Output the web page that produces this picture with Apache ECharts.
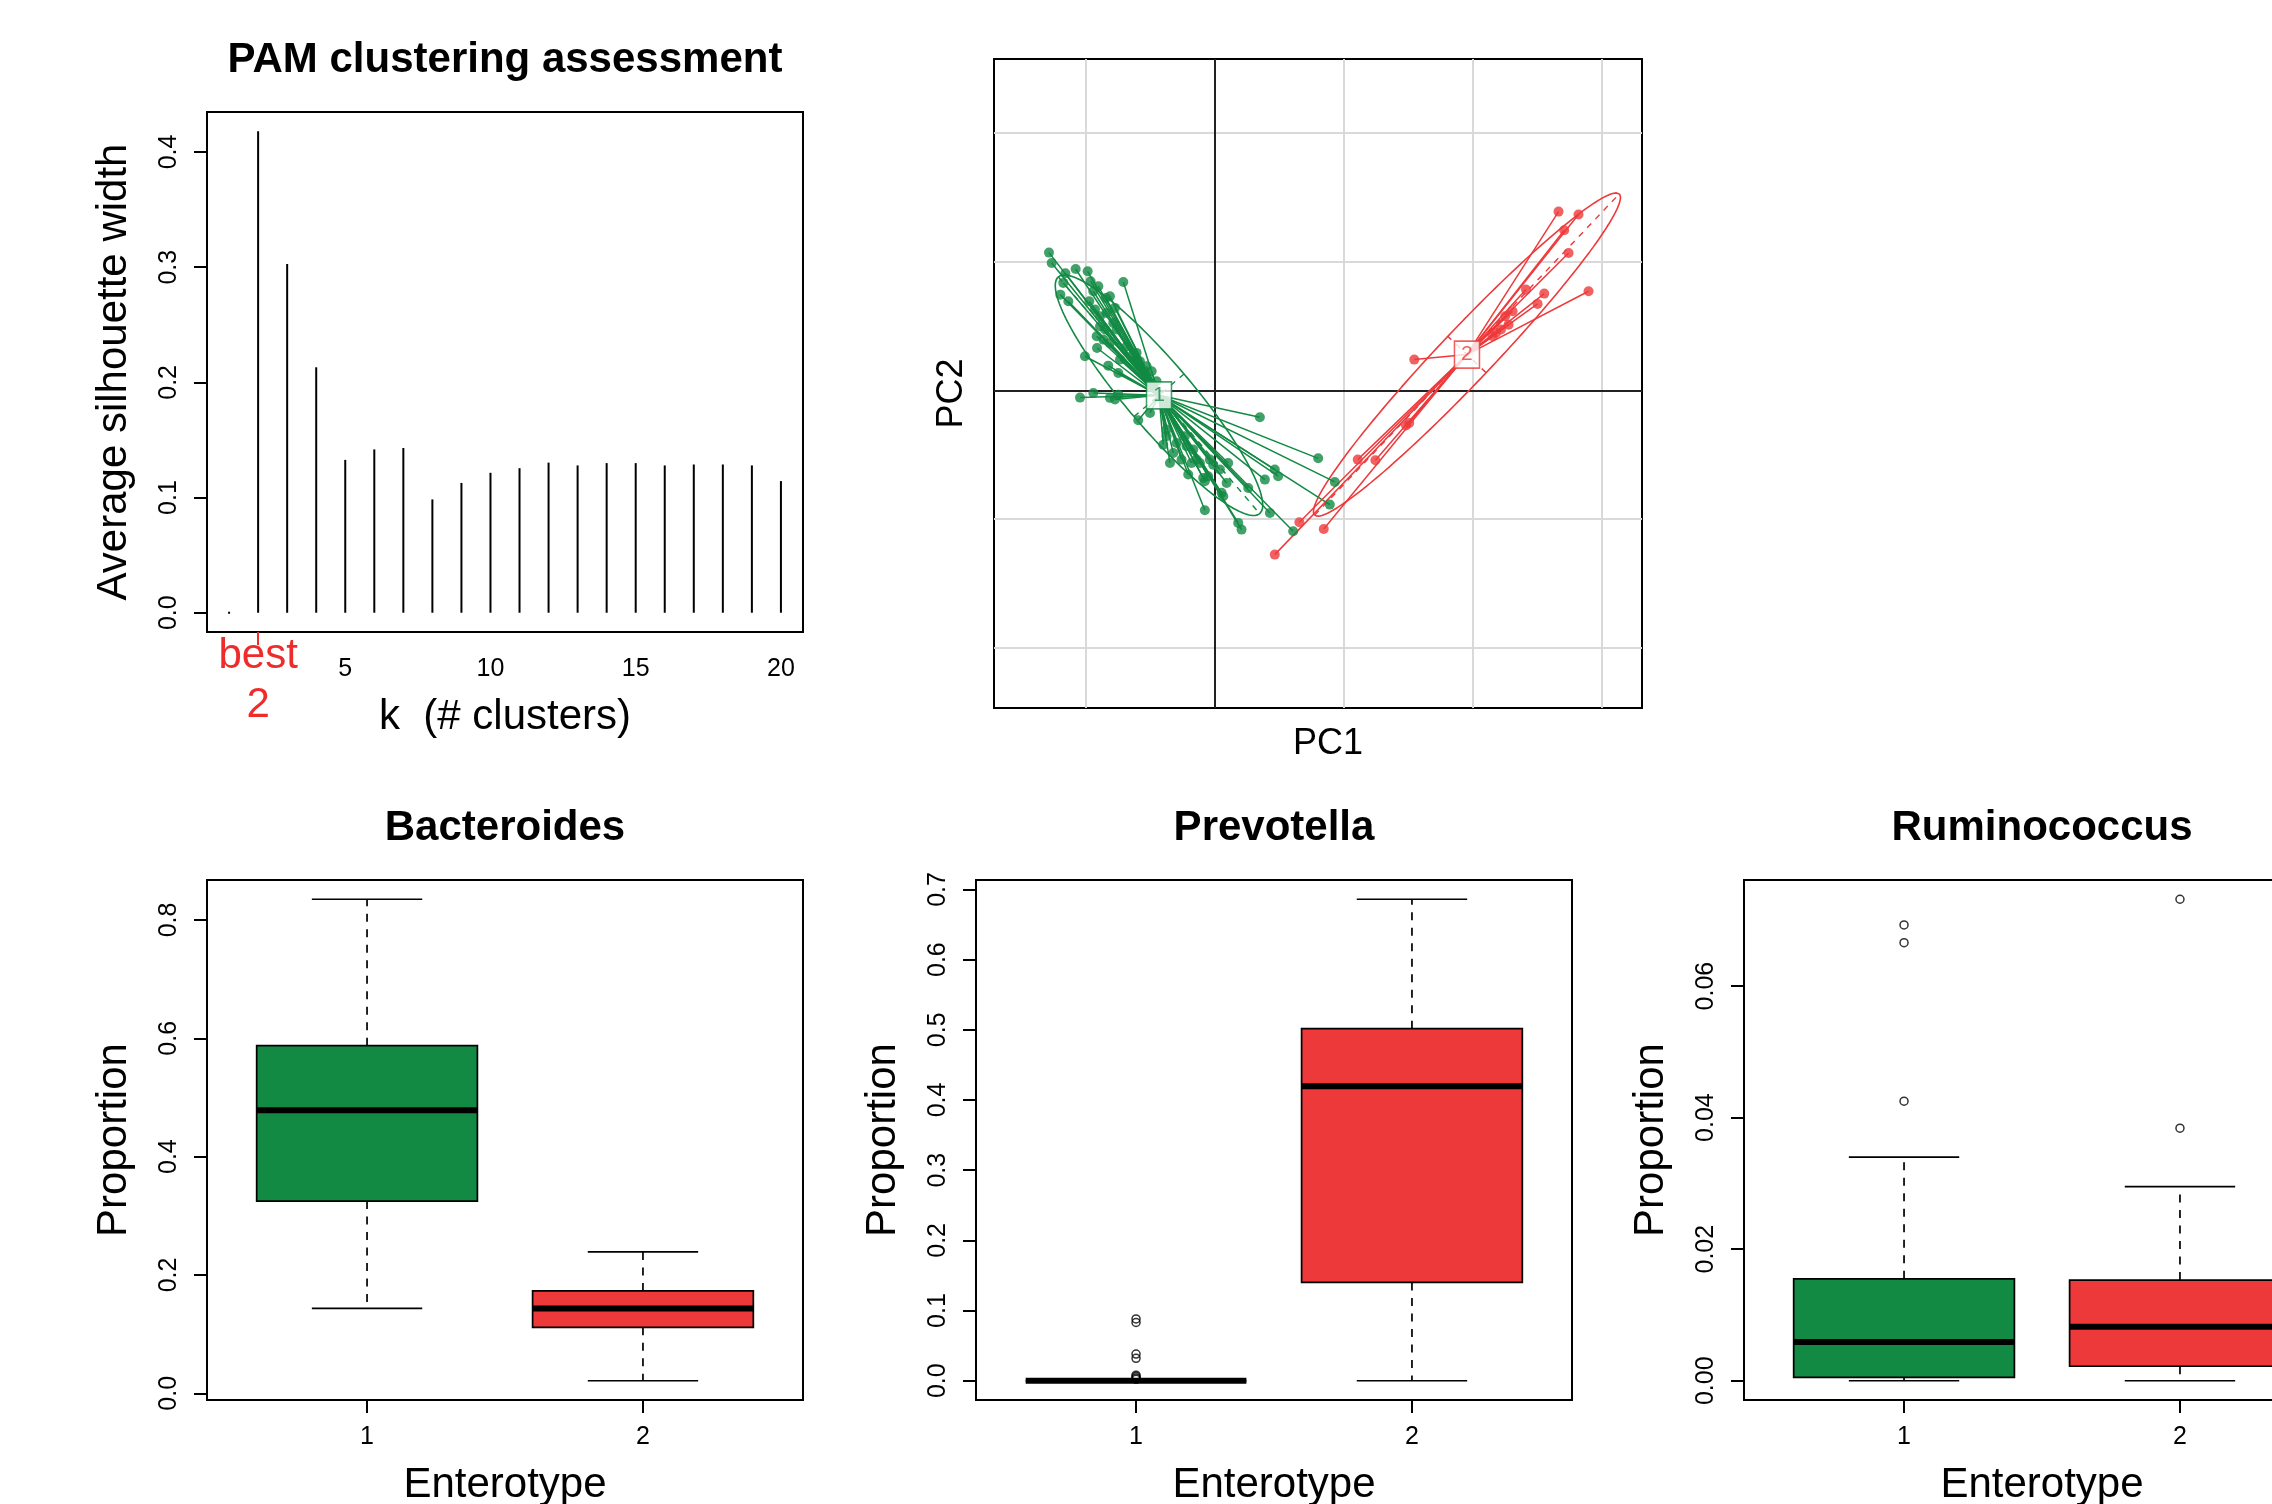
<!DOCTYPE html>
<html>
<head>
<meta charset="utf-8">
<title>Enterotype clustering</title>
<script src="https://cdn.jsdelivr.net/npm/echarts@6/dist/echarts.min.js"></script>
<style>
  html, body { margin: 0; padding: 0; background: #ffffff; }
  #chart { width: 2272px; height: 1504px; }
</style>
</head>
<body>
<div id="chart"></div>
<script>
// ---------- PAM clustering assessment ----------
const kValues = [1, 2, 3, 4, 5, 6, 7, 8, 9, 10, 11, 12, 13, 14, 15, 16, 17, 18, 19, 20];
const avgSilhouette = [0, 0.418, 0.3028, 0.2131, 0.1327, 0.1418, 0.1430, 0.0984, 0.1127, 0.1215,
                       0.1255, 0.1303, 0.1279, 0.1299, 0.1299, 0.1279, 0.1287, 0.1287, 0.1279, 0.1143];
const bestK = 2;
const kTickLabels = [5, 10, 15, 20];
const silTickLabels = [0, 0.1, 0.2, 0.3, 0.4];

// ---------- PCA of samples (PC1, PC2), per enterotype ----------
const cluster1Points = [
  [-1.288, 1.068], [-1.267, 0.988], [-1.161, 0.908], [-1.081, 0.941], [-0.988, 0.923],
  [-1.177, 0.833], [-0.965, 0.846], [-0.905, 0.807], [-0.711, 0.840], [-1.200, 0.742],
  [-1.138, 0.690], [-0.944, 0.768], [-0.975, 0.690], [-0.846, 0.716], [-0.815, 0.729],
  [-0.931, 0.626], [-0.892, 0.574], [-0.918, 0.419], [-0.853, 0.471], [-0.789, 0.522],
  [-0.915, 0.328], [-1.009, 0.264], [-0.828, 0.191], [-0.750, 0.134], [-0.608, 0.290],
  [-0.647, 0.264], [-0.491, 0.147], [-0.453, 0.070], [-0.737, 0.238], [-0.892, 0.497],
  [-0.866, 0.393], [-0.815, 0.367], [-0.582, 0.225], [-0.530, 0.186], [-0.685, 0.341],
  [-0.763, 0.471], [-0.840, 0.600], [-0.776, 0.639],
  [-1.047, -0.057], [-0.944, -0.021], [-0.815, -0.059], [-0.750, -0.034], [-0.776, -0.072],
  [-0.595, -0.233], [-0.504, -0.176], [-0.401, -0.422], [-0.375, -0.305], [-0.349, -0.564],
  [-0.323, -0.486], [-0.259, -0.538], [-0.207, -0.654], [-0.168, -0.460], [-0.116, -0.564],
  [-0.091, -0.680], [-0.078, -0.706], [-0.052, -0.667], [-0.013, -0.577], [0.039, -0.615],
  [0.091, -0.719], [0.103, -0.564], [-0.078, -0.931], [0.052, -0.796], [0.065, -0.822],
  [0.181, -1.029], [0.207, -1.081], [0.259, -0.758], [0.388, -0.693], [0.427, -0.952],
  [0.465, -0.615], [0.491, -0.667], [0.802, -0.528], [0.349, -0.209], [0.608, -1.094],
  [0.892, -0.887], [0.931, -0.711], [-0.220, -0.434], [-0.142, -0.538], [-0.297, -0.409],
  [-0.375, -0.357], [-0.233, -0.357], [-0.181, -0.564], [-0.039, -0.538]
];
const cluster2Points = [
  [2.668, 1.386], [2.823, 1.363], [2.712, 1.241], [2.746, 1.065], [2.901, 0.768],
  [2.557, 0.750], [2.505, 0.670], [2.415, 0.781], [2.254, 0.574], [2.280, 0.509],
  [2.182, 0.445], [2.221, 0.471], [2.311, 0.613], [2.156, 0.419], [1.548, 0.238],
  [1.484, -0.274], [1.509, -0.253], [1.109, -0.538], [1.246, -0.543], [0.656, -1.024],
  [0.845, -1.076], [0.465, -1.275]
];
// class centres (label positions)
const clusterCentres = [[-0.434, -0.039], [1.957, 0.277]];
const clusterNames = ['1', '2'];
// inertia ellipses: [centre x, centre y, semi-major, semi-minor, angle in degrees]
const clusterEllipses = [[-0.434, -0.039, 1.206, 0.255, -49.6], [1.957, 0.277, 1.718, 0.205, 46.5]];
// reference grid of the factorial map
const pcaXGrid = [-1, 1, 2, 3];
const pcaYGrid = [-2, -1, 1, 2];
const pcaXRange = [-1.715, 3.316];
const pcaYRange = [-2.465, 2.570];

// ---------- Genus proportions per enterotype: [min, q1, median, q3, max] ----------
const enterotypes = [1, 2];
const bacteroidesStats = [[0.1435, 0.3249, 0.4782, 0.5875, 0.8349], [0.0213, 0.1116, 0.1435, 0.1731, 0.2391]];
const bacteroidesOutliers = [[], []];
const prevotellaStats = [[0, 0, 0, 0, 0], [0, 0.1401, 0.4197, 0.5016, 0.686]];
const prevotellaOutliers = [[0.088, 0.083, 0.038, 0.032, 0.008, 0.006, 0.004, 0.002], []];
const ruminococcusStats = [[0, 0.0005, 0.0059, 0.0155, 0.0340], [0, 0.0022, 0.0082, 0.0153, 0.0295]];
const ruminococcusOutliers = [[0.0693, 0.0666, 0.0425], [0.0732, 0.0384]];
const bacteroidesTicks = [0, 0.2, 0.4, 0.6, 0.8];
const prevotellaTicks = [0, 0.1, 0.2, 0.3, 0.4, 0.5, 0.6, 0.7];
const ruminococcusTicks = [0, 0.02, 0.04, 0.06];

// ---------- styling ----------
const FONT = 'Liberation Sans, Arial, Helvetica, sans-serif';
const GREEN = '#128a43';
const RED = '#ee393b';
const BEST_RED = '#ee2c2c';
const groupColors = [GREEN, RED];

// R-like axis range: data range padded by 4% on each side
function paddedRange(lo, hi) {
  const d = (hi - lo) * 0.04;
  return [lo - d, hi + d];
}
function boxRange(stats, outliers) {
  const all = [];
  stats.forEach(s => all.push(...s));
  outliers.forEach(o => all.push(...o));
  return paddedRange(Math.min(...all), Math.max(...all));
}

const kRange = paddedRange(Math.min(...kValues), Math.max(...kValues));
const silRange = paddedRange(0, Math.max(...avgSilhouette));
const groupRange = paddedRange(0.5, 2.5);

const gridBase = { show: true, borderColor: '#000', borderWidth: 2, backgroundColor: 'transparent',
                   containLabel: false, outerBoundsMode: 'none' };
const grids = [
  { left: 207, top: 112, width: 596, height: 520 },   // PAM assessment
  { left: 994, top: 59, width: 648, height: 649 },    // PCA map
  { left: 207, top: 880, width: 596, height: 520 },   // Bacteroides
  { left: 976, top: 880, width: 596, height: 520 },   // Prevotella
  { left: 1744, top: 880, width: 596, height: 520 }   // Ruminococcus
].map(g => Object.assign({}, gridBase, g));

const tickStyle = { show: true, inside: false, length: 13, lineStyle: { color: '#000', width: 2 } };
const labelStyle = { color: '#000', fontSize: 25, lineHeight: 26, fontFamily: FONT };
const nameStyle = { color: '#000', fontSize: 42, lineHeight: 42, fontFamily: FONT };
const hiddenLine = { show: false, onZero: false };

function bottomAxis(gridIndex, range, ticks, name, showTicks) {
  return {
    type: 'value', gridIndex, min: range[0], max: range[1], position: 'bottom',
    axisLine: hiddenLine,
    axisTick: Object.assign({}, tickStyle, { customValues: ticks, show: showTicks }),
    axisLabel: Object.assign({ customValues: ticks, margin: 24, formatter: v => String(v) }, labelStyle),
    splitLine: { show: false },
    name, nameLocation: 'middle', nameGap: 64, nameTextStyle: nameStyle
  };
}
function leftAxis(gridIndex, range, ticks, digits, name) {
  return {
    type: 'value', gridIndex, min: range[0], max: range[1], position: 'left',
    axisLine: hiddenLine,
    axisTick: Object.assign({ customValues: ticks }, tickStyle),
    axisLabel: Object.assign({ customValues: ticks, rotate: 90, margin: 25,
                               formatter: v => Number(v).toFixed(digits) }, labelStyle),
    splitLine: { show: false },
    name, nameLocation: 'middle', nameRotate: 90, nameGap: 72, nameTextStyle: nameStyle
  };
}

const xAxes = [
  bottomAxis(0, kRange, kTickLabels, 'k  (# clusters)', false),
  {
    type: 'value', gridIndex: 0, min: kRange[0], max: kRange[1], position: 'bottom',
    axisLine: hiddenLine,
    axisTick: { show: true, customValues: [bestK], length: 13, lineStyle: { color: BEST_RED, width: 2 } },
    axisLabel: { customValues: [bestK], formatter: v => 'best\n' + v, color: BEST_RED,
                 fontSize: 42, lineHeight: 49, margin: 0, fontFamily: FONT },
    splitLine: { show: false }
  },
  {
    type: 'value', gridIndex: 1, min: pcaXRange[0], max: pcaXRange[1],
    axisLine: hiddenLine, axisTick: { show: false }, axisLabel: { show: false }, splitLine: { show: false },
    name: 'PC1', nameLocation: 'middle', nameGap: 18,
    nameTextStyle: { color: '#000', fontSize: 36, lineHeight: 36, fontFamily: FONT, padding: [0, 0, 0, 20] }
  },
  bottomAxis(2, groupRange, enterotypes, 'Enterotype', true),
  bottomAxis(3, groupRange, enterotypes, 'Enterotype', true),
  bottomAxis(4, groupRange, enterotypes, 'Enterotype', true)
];

const yAxes = [
  leftAxis(0, silRange, silTickLabels, 1, 'Average silhouette width'),
  {
    type: 'value', gridIndex: 1, min: pcaYRange[0], max: pcaYRange[1],
    axisLine: hiddenLine, axisTick: { show: false }, axisLabel: { show: false }, splitLine: { show: false },
    name: 'PC2', nameLocation: 'middle', nameRotate: 90, nameGap: 24,
    nameTextStyle: { color: '#000', fontSize: 36, lineHeight: 36, fontFamily: FONT, padding: [0, 20, 0, 0] }
  },
  leftAxis(2, boxRange(bacteroidesStats, bacteroidesOutliers), bacteroidesTicks, 1, 'Proportion'),
  leftAxis(3, boxRange(prevotellaStats, prevotellaOutliers), prevotellaTicks, 1, 'Proportion'),
  leftAxis(4, boxRange(ruminococcusStats, ruminococcusOutliers), ruminococcusTicks, 2, 'Proportion')
];

// ---------- series builders ----------
// vertical "h"-type lines from zero up to each silhouette value
function silhouetteSeries() {
  return {
    type: 'custom', xAxisIndex: 0, yAxisIndex: 0, silent: true, z: 3,
    data: kValues.map((k, i) => [k, avgSilhouette[i]]),
    encode: { x: 0, y: 1 },
    renderItem(params, api) {
      const base = api.coord([api.value(0), 0]);
      const top = api.coord([api.value(0), api.value(1)]);
      const h = Math.max(base[1] - top[1], 2);
      return { type: 'rect', shape: { x: base[0] - 1, y: base[1] - h + (h === 2 ? 1 : 0), width: 2, height: h },
               style: { fill: '#000' } };
    }
  };
}

// R-style box-and-whisker glyphs: filled box, thick median, dashed whiskers, staples
const BOX_HALF = 0.4, STAPLE_HALF = 0.2;
function boxSeries(xIndex, yIndex, stats) {
  return {
    type: 'custom', xAxisIndex: xIndex, yAxisIndex: yIndex, silent: true, z: 3,
    data: stats.map((s, i) => [enterotypes[i]].concat(s)),
    encode: { x: 0, y: [1, 2, 3, 4, 5] },
    renderItem(params, api) {
      const x = api.value(0);
      const lo = api.value(1), q1 = api.value(2), med = api.value(3), q3 = api.value(4), hi = api.value(5);
      const P = (dx, v) => api.coord([x + dx, v]);
      const seg = (a, b, style) => ({ type: 'line', shape: { x1: a[0], y1: a[1], x2: b[0], y2: b[1] }, style });
      const dashed = { stroke: '#000', lineWidth: 1.7, lineDash: [8, 7.5] };
      const solid = { stroke: '#000', lineWidth: 1.7 };
      const tl = P(-BOX_HALF, q3), br = P(BOX_HALF, q1);
      return {
        type: 'group',
        children: [
          seg(P(0, q3), P(0, hi), dashed),
          seg(P(0, q1), P(0, lo), dashed),
          seg(P(-STAPLE_HALF, hi), P(STAPLE_HALF, hi), solid),
          seg(P(-STAPLE_HALF, lo), P(STAPLE_HALF, lo), solid),
          { type: 'rect', shape: { x: tl[0], y: tl[1], width: br[0] - tl[0], height: br[1] - tl[1] },
            style: { fill: groupColors[params.dataIndex], stroke: '#000', lineWidth: 1.7 } },
          seg(P(-BOX_HALF, med), P(BOX_HALF, med), { stroke: '#000', lineWidth: 6 })
        ]
      };
    }
  };
}
function outlierSeries(xIndex, yIndex, outliers) {
  const data = [];
  outliers.forEach((vals, g) => vals.forEach(v => data.push([enterotypes[g], v])));
  return {
    type: 'scatter', xAxisIndex: xIndex, yAxisIndex: yIndex, silent: true, z: 4,
    symbol: 'circle', symbolSize: 8, data,
    itemStyle: { color: 'rgba(0,0,0,0)', borderColor: '#000', borderWidth: 1.5 }
  };
}

// PCA map pieces
function ellipsePoints(e, n) {
  const t = e[4] * Math.PI / 180;
  const pts = [];
  for (let i = 0; i <= n; i++) {
    const th = 2 * Math.PI * i / n;
    const u = e[2] * Math.cos(th), v = e[3] * Math.sin(th);
    pts.push([e[0] + u * Math.cos(t) - v * Math.sin(t), e[1] + u * Math.sin(t) + v * Math.cos(t)]);
  }
  return pts;
}
function ellipseAxes(e) {
  const t = e[4] * Math.PI / 180;
  const ax = [Math.cos(t), Math.sin(t)], ay = [-Math.sin(t), Math.cos(t)];
  return [
    { coords: [[e[0] - e[2] * ax[0], e[1] - e[2] * ax[1]], [e[0] + e[2] * ax[0], e[1] + e[2] * ax[1]]] },
    { coords: [[e[0] - e[3] * ay[0], e[1] - e[3] * ay[1]], [e[0] + e[3] * ay[0], e[1] + e[3] * ay[1]]] }
  ];
}
function pcaLines(data, color, width, z, dash) {
  return {
    type: 'lines', coordinateSystem: 'cartesian2d', xAxisIndex: 2, yAxisIndex: 1, silent: true, z,
    polyline: false, data,
    lineStyle: { color, width, opacity: 1, type: dash ? [6, 6] : 'solid' }
  };
}

const pcaSeries = [];
// background grid and the two principal axes
pcaSeries.push(pcaLines(
  pcaXGrid.map(v => ({ coords: [[v, pcaYRange[0]], [v, pcaYRange[1]]] }))
    .concat(pcaYGrid.map(v => ({ coords: [[pcaXRange[0], v], [pcaXRange[1], v]] }))),
  '#d9d9d9', 2, 1, false));
pcaSeries.push(pcaLines(
  [{ coords: [[0, pcaYRange[0]], [0, pcaYRange[1]]] }, { coords: [[pcaXRange[0], 0], [pcaXRange[1], 0]] }],
  '#222222', 2, 1, false));

[cluster1Points, cluster2Points].forEach((pts, c) => {
  const col = groupColors[c];
  const e = clusterEllipses[c];
  pcaSeries.push({
    type: 'line', xAxisIndex: 2, yAxisIndex: 1, silent: true, z: 2,
    data: ellipsePoints(e, 180), showSymbol: false, symbol: 'none',
    lineStyle: { color: col, width: 1.6 }
  });
  pcaSeries.push(pcaLines(ellipseAxes(e), col, 1.4, 2, true));
  pcaSeries.push(pcaLines(pts.map(p => ({ coords: [p, clusterCentres[c]] })), col, 1.5, 3, false));
  pcaSeries.push({
    type: 'scatter', xAxisIndex: 2, yAxisIndex: 1, silent: true, z: 4,
    symbol: 'circle', symbolSize: 10, data: pts, itemStyle: { color: col }
  });
});
pcaSeries.push({
  type: 'scatter', xAxisIndex: 2, yAxisIndex: 1, silent: true, z: 6,
  symbol: 'rect', symbolSize: [25, 27],
  data: clusterCentres.map((p, c) => ({
    value: p, name: clusterNames[c],
    itemStyle: { color: '#fff', borderColor: groupColors[c], borderWidth: 1.6 },
    label: { color: groupColors[c] }
  })),
  label: { show: true, position: 'inside', formatter: '{b}', fontSize: 21, fontFamily: FONT }
});

const titleStyle = { color: '#000', fontSize: 42, fontWeight: 'bold', lineHeight: 50, fontFamily: FONT };
const titles = [
  { text: 'PAM clustering assessment', left: 505, top: 35 },
  { text: 'Bacteroides', left: 505, top: 803 },
  { text: 'Prevotella', left: 1274, top: 803 },
  { text: 'Ruminococcus', left: 2042, top: 803 }
].map(t => Object.assign({ textAlign: 'center', padding: 0, textStyle: titleStyle }, t));

const option = {
  animation: false,
  backgroundColor: '#ffffff',
  textStyle: { fontFamily: FONT },
  title: titles,
  grid: grids,
  xAxis: xAxes,
  yAxis: yAxes,
  series: [
    silhouetteSeries(),
    ...pcaSeries,
    boxSeries(3, 2, bacteroidesStats), outlierSeries(3, 2, bacteroidesOutliers),
    boxSeries(4, 3, prevotellaStats), outlierSeries(4, 3, prevotellaOutliers),
    boxSeries(5, 4, ruminococcusStats), outlierSeries(5, 4, ruminococcusOutliers)
  ]
};

const chart = echarts.init(document.getElementById('chart'), null, { renderer: 'canvas', width: 2272, height: 1504 });
chart.setOption(option);
</script>
</body>
</html>
